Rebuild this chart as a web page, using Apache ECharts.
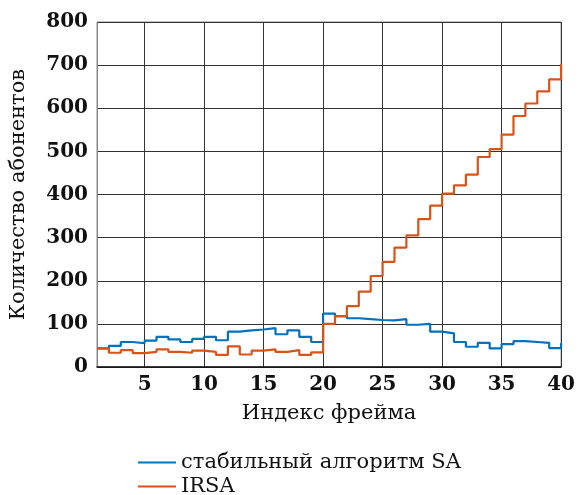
<!DOCTYPE html>
<html>
<head>
<meta charset="utf-8">
<script src="https://cdn.jsdelivr.net/npm/echarts@6/dist/echarts.min.js"></script>
<style>html,body{margin:0;padding:0;background:#fff}#c{width:578px;height:495px}</style>
</head>
<body>
<div id="c"></div>
<script>
const frames = [1,2,3,4,5,6,7,8,9,10,11,12,13,14,15,16,17,18,19,20,21,22,23,24,25,26,27,28,29,30,31,32,33,34,35,36,37,38,39,40];
const saValues = [43,49,58,55,61,70,64,58,65,70,62,82,85,87,90,76,85,70,58,124,118,113,111,109,108,111,98,100,82,78,58,47,56,43,53,60,58,56,44,55];
const irsaValues = [43,33,39,32,35,41,35,33,38,35,28,48,29,38,41,35,39,28,34,100,118,141,175,211,244,277,305,343,374,402,421,446,487,505,539,582,611,639,667,702];
const xTicks = [5,10,15,20,25,30,35,40];
const seriesNames = ['стабильный алгоритм SA','IRSA'];
const xName = 'Индекс фрейма';
const yName = 'Количество абонентов';

const font = 'DejaVu Serif';
const legendText = {fontFamily:font,fontSize:21,color:'#111'};
const chart = echarts.init(document.getElementById('c'), null, {renderer:'canvas'});
chart.setOption({
  animation:false,
  backgroundColor:'#fff',
  grid:{left:97,right:14,top:22,bottom:128,show:true,borderColor:'#888',borderWidth:1},
  legend:[
    {left:133, top:447, itemWidth:38, itemHeight:2, itemGap:0, icon:'rect',
     textStyle:legendText, data:[seriesNames[0]]},
    {left:133, top:471, itemWidth:38, itemHeight:2, itemGap:0, icon:'rect',
     textStyle:legendText, data:[seriesNames[1]]}
  ],
  xAxis:{
    type:'value', min:1, max:40,
    name:xName, nameLocation:'middle', nameGap:36,
    nameTextStyle:{fontFamily:font,fontSize:21,color:'#111'},
    axisLine:{show:true,lineStyle:{color:'#111',width:1.5}},
    axisTick:{show:false, customValues:xTicks},
    axisLabel:{customValues:xTicks, fontFamily:font,fontSize:20,fontWeight:'bold',color:'#111',margin:8},
    splitLine:{show:true,lineStyle:{color:'#333',width:1}}
  },
  yAxis:{
    type:'value', min:0, max:800, interval:100,
    name:yName, nameLocation:'middle', nameGap:68,
    nameTextStyle:{fontFamily:font,fontSize:21,color:'#111'},
    axisLine:{show:true,lineStyle:{color:'#888',width:1}},
    axisTick:{show:false},
    axisLabel:{fontFamily:font,fontSize:20,fontWeight:'bold',color:'#111',margin:9},
    splitLine:{show:true,lineStyle:{color:'#333',width:1}}
  },
  series:[
    {name:seriesNames[0], type:'line', step:'end', symbol:'none',
     color:'#0072BD', lineStyle:{width:2.2,color:'#0072BD'},
     data:frames.map((f,i)=>[f,saValues[i]])},
    {name:seriesNames[1], type:'line', step:'end', symbol:'none',
     color:'#D95319', lineStyle:{width:2.2,color:'#D95319'},
     data:frames.map((f,i)=>[f,irsaValues[i]])}
  ]
});
</script>
</body>
</html>
